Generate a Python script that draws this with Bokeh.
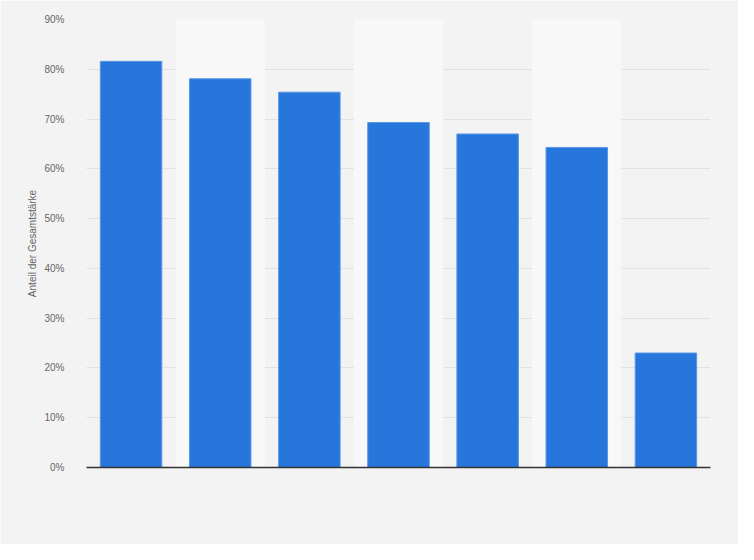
from bokeh.plotting import figure
from bokeh.models import ColumnDataSource, FixedTicker, NumeralTickFormatter, Range1d
from bokeh.embed import file_html
from bokeh.resources import INLINE

# Data (categories have no visible labels in the reference)
categories = ["1", "2", "3", "4", "5", "6", "7"]
shares = [0.816, 0.781, 0.754, 0.693, 0.670, 0.643, 0.230]
y_ticks = [0, 0.1, 0.2, 0.3, 0.4, 0.5, 0.6, 0.7, 0.8, 0.9]
y_max = 0.9

xs = [i + 0.5 for i in range(len(categories))]
band_x = [xs[i] for i in range(len(categories)) if i % 2 == 1]

p = figure(width=738, height=544, output_backend="svg", toolbar_location=None,
           x_range=Range1d(0, len(categories)), y_range=Range1d(0, y_max),
           min_border_left=86, min_border_right=28, min_border_top=19, min_border_bottom=77)

p.background_fill_color = "#f3f3f3"
p.border_fill_color = "#f3f3f3"
p.outline_line_color = None

# alternating lighter column bands
p.vbar(x=band_x, top=[y_max] * len(band_x), bottom=0, width=1.0,
       fill_color="#f8f8f8", line_color=None)

src = ColumnDataSource(dict(x=xs, top=shares, cat=categories))
p.vbar(x="x", top="top", width=0.69, source=src,
       fill_color="#2776db", line_color="#5c97e6", line_width=1)

# grid
p.xgrid.grid_line_color = None
p.ygrid.ticker = FixedTicker(ticks=y_ticks)
p.ygrid.grid_line_color = "#d0d0d0"
p.ygrid.grid_line_dash = "1 1"
p.ygrid.grid_line_width = 1

# y axis
p.yaxis.ticker = FixedTicker(ticks=y_ticks)
p.yaxis.formatter = NumeralTickFormatter(format="0%")
p.yaxis.axis_line_color = None
p.yaxis.major_tick_line_color = None
p.yaxis.minor_tick_line_color = None
p.yaxis.major_label_text_font = "Liberation Sans"
p.yaxis.major_label_text_font_size = "10px"
p.yaxis.major_label_text_color = "#666666"
p.yaxis.major_label_standoff = 16
p.yaxis.axis_label = "Anteil der Gesamtstärke"
p.yaxis.axis_label_text_font = "Liberation Sans"
p.yaxis.axis_label_text_font_style = "normal"
p.yaxis.axis_label_text_font_size = "10px"
p.yaxis.axis_label_text_color = "#666666"
p.yaxis.axis_label_standoff = 3

# x axis
p.xaxis.ticker = FixedTicker(ticks=[])
p.xaxis.axis_line_color = "#333333"
p.xaxis.axis_line_width = 1.5
p.xaxis.major_tick_line_color = None
p.xaxis.minor_tick_line_color = None
p.xaxis.major_label_text_font_size = "0px"

open("out.html", "w").write(file_html(p, INLINE))
